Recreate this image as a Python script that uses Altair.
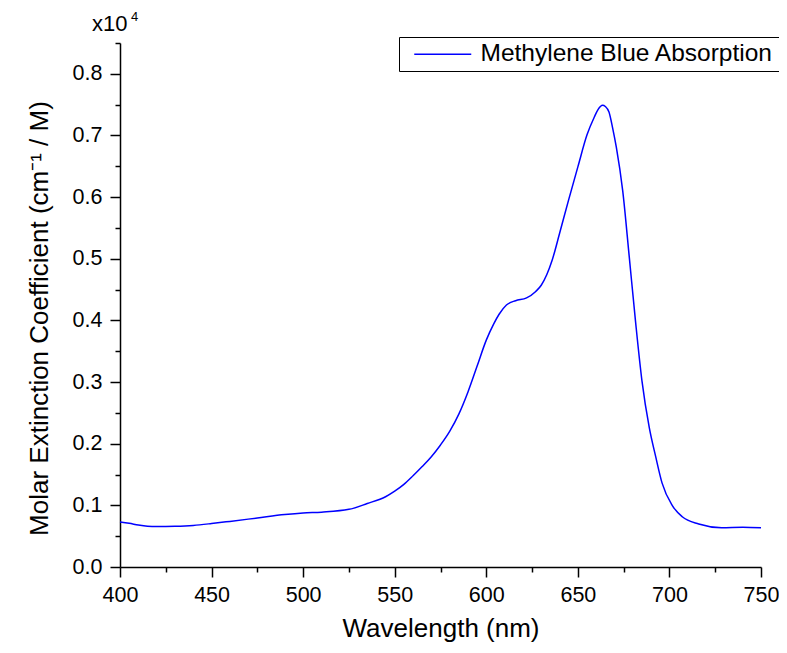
import altair as alt
import pandas as pd

# Wavelength (nm)
wavelength = [400, 405, 410, 415, 420, 430, 440, 450, 460, 475,
              490, 500, 510, 525, 535, 545, 550, 555, 560, 565,
              570, 575, 580, 585, 590, 595, 600, 604, 607, 611,
              616, 622, 627, 630, 633, 636, 640, 645, 650, 655,
              659, 661, 663.5, 665, 667, 669, 671, 674.5, 678, 681.5,
              685, 689, 692.5, 696, 701.5, 707, 716, 728.5, 740, 750]
# Molar extinction coefficient (x10^4 cm^-1 / M)
coef = [0.073, 0.071, 0.068, 0.066, 0.0655, 0.066, 0.0675, 0.0705, 0.074, 0.0795,
        0.085, 0.0876, 0.089, 0.0935, 0.103, 0.114, 0.123, 0.134, 0.148, 0.163,
        0.179, 0.198, 0.220, 0.248, 0.284, 0.326, 0.368, 0.394, 0.410, 0.425,
        0.432, 0.4365, 0.447, 0.457, 0.474, 0.498, 0.541, 0.596, 0.649, 0.701,
        0.730, 0.742, 0.749, 0.747, 0.738, 0.712, 0.681, 0.610, 0.505, 0.398,
        0.302, 0.226, 0.179, 0.136, 0.100, 0.0815, 0.0697, 0.0637, 0.0645, 0.0635]
series_name = "Methylene Blue Absorption"

x_ticks = list(range(400, 751, 25))
y_ticks = [round(i * 0.05, 2) for i in range(18)]

FONT = "Liberation Sans"

df = pd.DataFrame({"Wavelength": wavelength, "Coef": coef,
                   "series": [series_name] * len(wavelength)})

line = alt.Chart(df).mark_line(strokeWidth=1.5, interpolate="monotone").encode(
    x=alt.X("Wavelength:Q",
            scale=alt.Scale(domain=[400, 750], nice=False, zero=False),
            axis=alt.Axis(title="Wavelength (nm)", values=x_ticks,
                          labelExpr="datum.value % 50 === 0 ? datum.label : ''",
                          tickSize={"condition": {"test": "datum.value % 50 === 0", "value": 10}, "value": 5},
                          labelPadding=7, titlePadding=10)),
    y=alt.Y("Coef:Q",
            scale=alt.Scale(domain=[0, 0.85], nice=False),
            axis=alt.Axis(title="Molar Extinction Coefficient (cm⁻¹ / M)", values=y_ticks,
                          labelExpr="round(datum.value * 100) % 10 === 0 ? format(datum.value, '.1f') : ''",
                          tickSize={"condition": {"test": "round(datum.value * 100) % 10 === 0", "value": 10}, "value": 5},
                          labelPadding=8, titlePadding=20, titleY=275)),
    color=alt.Color("series:N", scale=alt.Scale(range=["#0000FF"]),
                    legend=alt.Legend(title=None, orient="none", legendX=279, legendY=-6,
                                      strokeColor="black", fillColor="white", padding=5,
                                      symbolType="M-1,0H4.7", symbolSize=400, symbolStrokeWidth=1.5,
                                      symbolOffset=8, labelOffset=44, labelLimit=0,
                                      labelFontSize=24.5, labelFont=FONT, labelColor="black",
                                      cornerRadius=0)),
)

t1 = alt.Chart(pd.DataFrame({"t": ["x10"]})).mark_text(
    align="left", baseline="alphabetic", fontSize=22, font=FONT, color="black"
).encode(text="t:N", x=alt.value(-28), y=alt.value(-12))

t2 = alt.Chart(pd.DataFrame({"t": ["4"]})).mark_text(
    align="left", baseline="alphabetic", fontSize=13, font=FONT, color="black"
).encode(text="t:N", x=alt.value(11), y=alt.value(-22))

chart = alt.layer(line, t1, t2).properties(
    width=641, height=524,
    autosize=alt.AutoSizeParams(type="none"),
    padding={"left": 112, "top": 35, "right": 18, "bottom": 78},
).configure_view(stroke=None).configure_axis(
    grid=False, domainColor="black", domainWidth=1.5, tickColor="black", tickWidth=1.5,
    labelFont=FONT, labelFontSize=21.5, labelColor="black",
    titleFont=FONT, titleFontSize=26, titleColor="black", titleFontWeight="normal",
    labelOverlap=False, labelFlush=False, labelBound=False,
)

chart.save("out.html", embed_options={"renderer": "svg", "actions": False})
